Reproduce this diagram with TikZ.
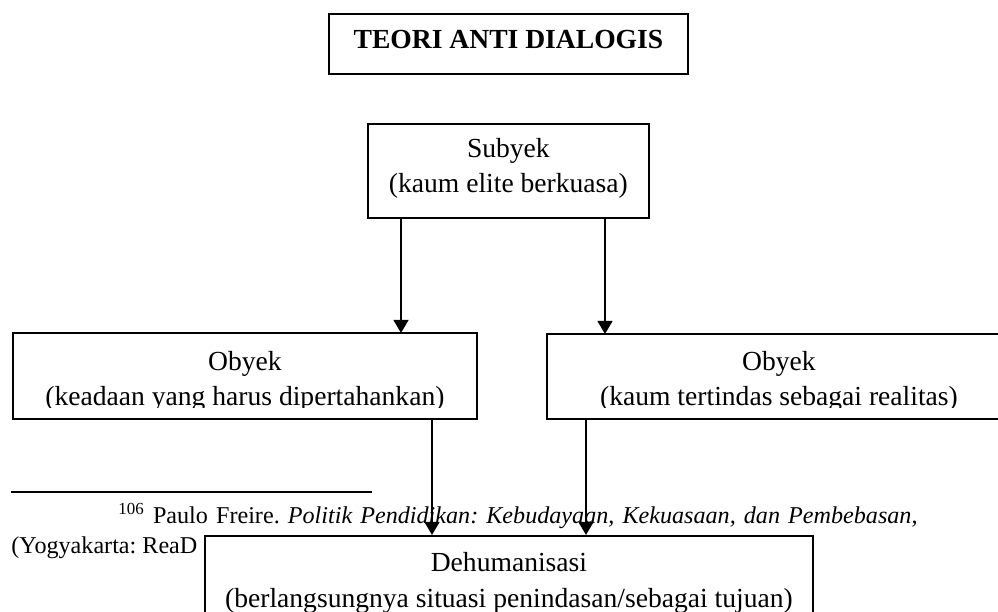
\documentclass[tikz,border=0pt]{standalone}
\usepackage{fontspec}
\setmainfont{Liberation Serif}
\usetikzlibrary{arrows.meta,calc}

\tikzset{
  kotak/.style={draw,line width=0.8pt,inner sep=0pt,align=center,anchor=north west,
    font=\fontsize{12}{15.6}\selectfont},
  panah/.style={-{Triangle[width=6.5pt,length=5.7pt]},line width=0.8pt},
  catatan/.style={anchor=base west,inner sep=0pt,font=\fontsize{10.5}{12.6}\selectfont\frenchspacing},
}

\begin{document}
\begin{tikzpicture}[x=0.435pt,y=-0.435pt]
  \useasboundingbox (0,0) rectangle (998,612);
  \clip (0,0) rectangle (998,612);

  \node[kotak,minimum width=156.2pt,text height=15.2pt,text depth=10.9pt,
    font=\fontsize{12}{15.6}\selectfont\bfseries] (judul) at (328,13) {TEORI ANTI DIALOGIS};

  \node[kotak,minimum width=122.2pt,text height=30pt,text depth=10.9pt] (subyek) at (367,123)
    {Subyek\\(kaum elite berkuasa)};

  % kedua obyek, baris bawah terpotong
  \begin{scope}
    \clip (0,333) rectangle (998,407.5);
    \node[kotak,draw=none,minimum width=201pt,text height=31.3pt,text depth=5.2pt] (obyekL) at (13,333)
      {Obyek\\(keadaan yang harus dipertahankan)};
    \node[kotak,draw=none,minimum width=201pt,text height=30.9pt,text depth=5.2pt] (obyekR) at (547,334)
      {Obyek\\(kaum tertindas sebagai realitas)};
  \end{scope}
  \draw[line width=0.8pt] (obyekL.north west) rectangle (obyekL.south east);
  \draw[line width=0.8pt] (obyekR.north west) rectangle (obyekR.south east);

  % catatan kaki
  \draw[line width=0.8pt] (11,492) -- (372,492);
  \node[catatan] (catatan1) at (118,524)
    {\makebox[347.6pt][s]{\textsuperscript{106} Paulo Freire. \textit{Politik Pendidikan: Kebudayaan, Kekuasaan, dan Pembebasan,}}};
  \node[catatan] (catatan2) at (11,554) {(Yogyakarta: ReaD};

  \node[kotak,fill=white,minimum width=264.5pt,text height=31pt,text depth=15.7pt] (dehum) at (204,535)
    {Dehumanisasi\\(berlangsungnya situasi penindasan/sebagai tujuan)};

  % panah
  \draw[panah] ($(subyek.south west)+(34,0)$) coordinate (p1) -- (p1 |- obyekL.north);
  \draw[panah] ($(subyek.south west)+(238,0)$) coordinate (p2) -- (p2 |- obyekR.north);
  \draw[panah] ($(obyekL.south west)+(419,0)$) coordinate (p3) -- (p3 |- dehum.north);
  \draw[panah] ($(obyekR.south west)+(39,0)$) coordinate (p4) -- (p4 |- dehum.north);
\end{tikzpicture}
\end{document}
